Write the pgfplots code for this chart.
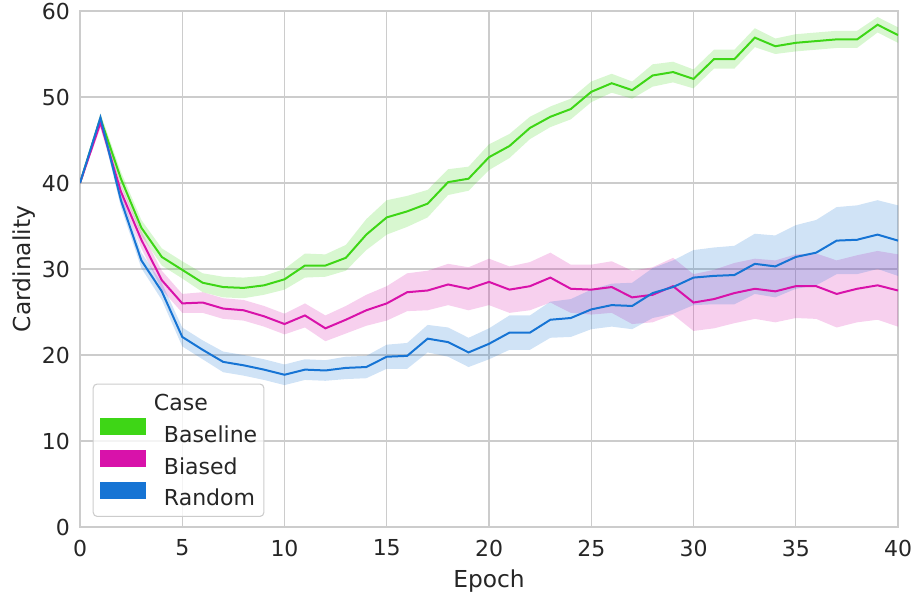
\documentclass[border=0pt]{standalone}
\usepackage{pgfplots}
\pgfplotsset{compat=1.18}
\usepackage{pgfplotstable}
\usepgfplotslibrary{fillbetween}
\usepackage{fontspec}
\setmainfont{DejaVu Sans}

\definecolor{cBase}{RGB}{62,214,22}
\definecolor{cBias}{RGB}{216,18,170}
\definecolor{cRand}{RGB}{22,116,212}
\definecolor{gridgray}{RGB}{204,204,204}
\definecolor{txt}{RGB}{38,38,38}

% epoch, mean, lower and upper bound of the confidence band
\pgfplotstableread{
e m lo hi
0 40.0 40.0 40.0
1 47.5 46.9 48.1
2 40.5 39.7 41.3
3 34.8 33.9 35.7
4 31.4 30.4 32.4
5 29.9 28.9 30.9
6 28.4 27.3 29.5
7 27.9 26.7 29.1
8 27.8 26.6 29.0
9 28.1 27.0 29.2
10 28.8 27.6 30.0
11 30.4 29.0 31.8
12 30.4 29.1 31.7
13 31.3 29.8 32.8
14 34.0 32.2 35.8
15 36.0 34.0 38.0
16 36.7 34.9 38.5
17 37.6 36.0 39.2
18 40.1 38.6 41.6
19 40.5 39.1 41.9
20 43.0 41.5 44.5
21 44.3 42.9 45.7
22 46.4 45.1 47.7
23 47.7 46.5 48.9
24 48.6 47.4 49.8
25 50.6 49.4 51.8
26 51.6 50.5 52.7
27 50.8 49.8 51.8
28 52.5 51.2 53.8
29 52.9 51.7 54.1
30 52.1 51.0 53.2
31 54.4 53.3 55.5
32 54.4 53.3 55.5
33 56.9 55.8 58.0
34 55.9 55.0 56.8
35 56.3 55.3 57.3
36 56.5 55.5 57.5
37 56.7 55.7 57.7
38 56.7 55.7 57.7
39 58.4 57.5 59.3
40 57.2 56.3 58.1
}\baseline

\pgfplotstableread{
e m lo hi
0 40.0 40.0 40.0
1 47.0 46.4 47.6
2 39.0 38.2 39.8
3 33.4 32.4 34.4
4 28.7 27.6 29.8
5 26.0 24.9 27.1
6 26.1 24.9 27.3
7 25.4 24.2 26.6
8 25.2 24.0 26.4
9 24.5 23.3 25.7
10 23.6 22.4 24.8
11 24.6 23.2 26.0
12 23.1 21.6 24.6
13 24.1 22.5 25.7
14 25.2 23.4 27.0
15 26.0 24.0 28.0
16 27.3 25.1 29.5
17 27.5 25.2 29.8
18 28.2 25.8 30.6
19 27.7 25.2 30.2
20 28.5 25.8 31.2
21 27.6 24.9 30.3
22 28.0 25.2 30.8
23 29.0 26.1 31.9
24 27.7 24.9 30.5
25 27.6 24.7 30.5
26 27.9 24.9 30.9
27 26.7 23.6 29.8
28 27.0 23.8 30.2
29 28.0 24.7 31.3
30 26.1 22.8 29.4
31 26.5 23.1 29.9
32 27.2 23.7 30.7
33 27.7 24.2 31.2
34 27.4 23.8 31.0
35 28.0 24.3 31.7
36 28.0 24.2 31.8
37 27.1 23.2 31.0
38 27.7 23.8 31.6
39 28.1 24.1 32.1
40 27.5 23.3 31.7
}\biased

\pgfplotstableread{
e m lo hi
0 40.0 40.0 40.0
1 47.6 47.1 48.1
2 38.0 37.2 38.8
3 31.0 30.1 31.9
4 27.4 26.4 28.4
5 22.1 21.0 23.2
6 20.6 19.5 21.7
7 19.2 18.0 20.4
8 18.8 17.6 20.0
9 18.3 17.1 19.5
10 17.7 16.5 18.9
11 18.3 17.1 19.5
12 18.2 17.0 19.4
13 18.5 17.2 19.8
14 18.6 17.3 19.9
15 19.8 18.4 21.2
16 19.9 18.4 21.4
17 21.9 20.3 23.5
18 21.5 19.8 23.2
19 20.3 18.6 22.0
20 21.3 19.5 23.1
21 22.6 20.6 24.6
22 22.6 20.6 24.6
23 24.1 22.0 26.2
24 24.3 22.1 26.5
25 25.3 23.0 27.6
26 25.8 23.3 28.3
27 25.7 23.0 28.4
28 27.2 24.3 30.1
29 27.9 24.8 31.0
30 29.0 25.8 32.2
31 29.2 25.9 32.5
32 29.3 25.9 32.7
33 30.6 27.1 34.1
34 30.3 26.7 33.9
35 31.4 27.7 35.1
36 31.9 28.1 35.7
37 33.3 29.4 37.2
38 33.4 29.4 37.4
39 34.0 30.0 38.0
40 33.3 29.2 37.4
}\random

\begin{document}
\begin{tikzpicture}
\begin{axis}[
  name=ax,
  scale only axis,
  width=613.5pt, height=387pt,
  xmin=0, xmax=40, ymin=0, ymax=60,
  xtick={0,5,...,40}, ytick={0,10,...,60},
  major tick length=0pt,
  grid=major,
  grid style={gridgray, line width=0.9pt},
  axis line style={gridgray, line width=1pt},
  /pgf/number format/assume math mode=true,
  tick label style={font=\fontsize{16.5}{18}\selectfont, text=txt},
  xticklabel style={yshift=-6pt},
  yticklabel style={xshift=-4pt},
  label style={font=\fontsize{17.5}{20}\selectfont, text=txt},
  xlabel={Epoch}, ylabel={Cardinality},
  xlabel style={yshift=-3pt},
  ylabel style={yshift=-2pt},
  legend cell align=left,
  legend style={
    at={(rel axis cs:0.0155,0.0194)}, anchor=south west,
    draw=gridgray, line width=0.8pt, rounded corners=3pt,
    fill=white, fill opacity=0.8, text opacity=1,
    font=\fontsize{16.5}{18}\selectfont, text=txt,
    inner xsep=5pt, inner ysep=8pt,
    column sep=13.5pt, row sep=5.5pt,
    nodes={inner sep=0pt, text height=12.2pt, text depth=0pt},
  },
]
  % Baseline
  \addplot[name path=bHi, draw=none, forget plot] table[x=e, y=hi] {\baseline};
  \addplot[name path=bLo, draw=none, forget plot] table[x=e, y=lo] {\baseline};
  \addplot[cBase, fill opacity=0.2, draw=none, forget plot] fill between[of=bHi and bLo];
  \addplot[cBase, line width=1.5pt, forget plot] table[x=e, y=m] {\baseline};
  % Biased
  \addplot[name path=sHi, draw=none, forget plot] table[x=e, y=hi] {\biased};
  \addplot[name path=sLo, draw=none, forget plot] table[x=e, y=lo] {\biased};
  \addplot[cBias, fill opacity=0.2, draw=none, forget plot] fill between[of=sHi and sLo];
  \addplot[cBias, line width=1.5pt, forget plot] table[x=e, y=m] {\biased};
  % Random
  \addplot[name path=rHi, draw=none, forget plot] table[x=e, y=hi] {\random};
  \addplot[name path=rLo, draw=none, forget plot] table[x=e, y=lo] {\random};
  \addplot[cRand, fill opacity=0.2, draw=none, forget plot] fill between[of=rHi and rLo];
  \addplot[cRand, line width=1.5pt, forget plot] table[x=e, y=m] {\random};

  % legend
  \addlegendimage{empty legend}
  \addlegendentry{\hspace*{-7.5pt}Case}
  \addlegendimage{legend image code/.code={\fill[cBase, fill opacity=1, sharp corners] (0pt,-0.3pt) rectangle (33.75pt,11.7pt);}}
  \addlegendentry{Baseline}
  \addlegendimage{legend image code/.code={\fill[cBias, fill opacity=1, sharp corners] (0pt,-0.3pt) rectangle (33.75pt,11.7pt);}}
  \addlegendentry{Biased}
  \addlegendimage{legend image code/.code={\fill[cRand, fill opacity=1, sharp corners] (0pt,-0.3pt) rectangle (33.75pt,11.7pt);}}
  \addlegendentry{Random}
\end{axis}
\pgfresetboundingbox
\path ([xshift=-60pt,yshift=-50.25pt]ax.south west) rectangle ([xshift=12.75pt,yshift=8.25pt]ax.north east);
\end{tikzpicture}
\end{document}
